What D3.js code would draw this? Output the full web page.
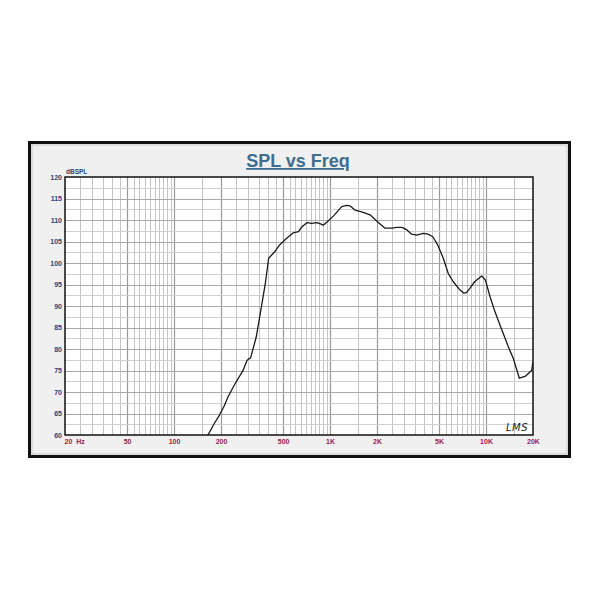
<!DOCTYPE html>
<html>
<head>
<meta charset="utf-8">
<script src="https://cdn.jsdelivr.net/npm/d3@7"></script>
<style>
  html, body { margin: 0; padding: 0; background: #ffffff; }
  svg { display: block; }
</style>
</head>
<body>
<svg id="chart" width="600" height="600"></svg>
<script>
// ---- data ----
const freqHz = [160, 165, 180, 196, 210, 222, 245, 276, 294, 310, 337, 363, 385, 404, 442, 475, 525,
  579, 628, 655, 714, 760, 820, 870, 905, 960, 1050, 1188, 1280, 1340, 1445, 1595, 1805, 2040, 2250,
  2490, 2680, 2890, 3110, 3340, 3590, 3960, 4250, 4560, 4900, 5320, 5720, 6150, 6810, 7200, 7500,
  7870, 8480, 9380, 9910, 10600, 11400, 12280, 13900, 14960, 16350, 17950, 19600, 20000];
const splDb = [59, 60, 62.5, 64.7, 66.8, 68.9, 71.8, 74.9, 77.4, 78, 82.9, 89.8, 95.3, 101.1, 102.6, 104.2, 105.7,
  107, 107.3, 108.3, 109.4, 109.2, 109.4, 109.1, 108.8, 109.6, 110.9, 113.1, 113.4, 113.3, 112.3, 111.9, 111.2, 109.4, 108.1,
  108.1, 108.3, 108.3, 107.7, 106.7, 106.5, 106.9, 106.7, 106.1, 104.2, 101.1, 97.6, 95.7, 93.7, 93, 93.1,
  94.1, 95.7, 97, 96, 92.2, 88.7, 85.6, 80.5, 77.8, 73.2, 73.7, 75, 77];

const xTickValues = [20, 50, 100, 200, 500, 1000, 2000, 5000, 10000, 20000];
const xTickLabels = ["20  Hz", "50", "100", "200", "500", "1K", "2K", "5K", "10K", "20K"];
const yTickValues = [60, 65, 70, 75, 80, 85, 90, 95, 100, 105, 110, 115, 120];
const titleText = "SPL vs Freq";
const yUnitText = "dBSPL";
const brandText = "LMS";

// ---- layout ----
const svg = d3.select("#chart");
const plot = { left: 65, right: 533, top: 177, bottom: 435 };

const x = d3.scaleLog().domain([20, 20000]).range([plot.left, plot.right]);
const y = d3.scaleLinear().domain([60, 120]).range([plot.bottom, plot.top]);

// outer frame
svg.append("rect")
  .attr("x", 29.5).attr("y", 142.5).attr("width", 540).attr("height", 314)
  .attr("fill", "#f0f0f0").attr("stroke", "#111").attr("stroke-width", 3);
svg.append("rect")
  .attr("x", 32).attr("y", 145).attr("width", 535).attr("height", 309)
  .attr("fill", "none").attr("stroke", "#c8c8c8").attr("stroke-width", 1);

// plot background
svg.append("rect")
  .attr("x", plot.left).attr("y", plot.top)
  .attr("width", plot.right - plot.left).attr("height", plot.bottom - plot.top)
  .attr("fill", "#ffffff");

// vertical grid lines (every half step in each decade)
const vGrid = [];
[10, 100, 1000, 10000].forEach(d => {
  for (let m = 1; m < 10; m += 0.5) {
    const f = d * m;
    if (f > 20 && f < 20000) vGrid.push(f);
  }
});
const majorSet = new Set(xTickValues);
svg.append("g").selectAll("line").data(vGrid).join("line")
  .attr("x1", d => Math.round(x(d)) + 0.5).attr("x2", d => Math.round(x(d)) + 0.5)
  .attr("y1", plot.top).attr("y2", plot.bottom)
  .attr("stroke", d => majorSet.has(d) ? "#9a9a9a" : "#c4c4c4")
  .attr("stroke-width", d => majorSet.has(d) ? 1.2 : 1);

// horizontal grid lines every 2.5 dB
const hGrid = d3.range(62.5, 120, 2.5);
svg.append("g").selectAll("line").data(hGrid).join("line")
  .attr("x1", plot.left).attr("x2", plot.right)
  .attr("y1", d => Math.round(y(d)) + 0.5).attr("y2", d => Math.round(y(d)) + 0.5)
  .attr("stroke", d => d % 5 === 0 ? "#a8a8a8" : "#cfcfcf")
  .attr("stroke-width", 1);

// clip for curve
svg.append("clipPath").attr("id", "clip")
  .append("rect").attr("x", plot.left).attr("y", plot.top)
  .attr("width", plot.right - plot.left).attr("height", plot.bottom - plot.top);

const pts = freqHz.map((f, i) => [f, splDb[i]]);
const line = d3.line().x(d => x(d[0])).y(d => y(d[1]));
svg.append("path")
  .attr("clip-path", "url(#clip)")
  .attr("d", line(pts))
  .attr("fill", "none").attr("stroke", "#1a1a1a").attr("stroke-width", 1.3)
  .attr("stroke-linejoin", "round");

// plot border
svg.append("rect")
  .attr("x", plot.left).attr("y", plot.top)
  .attr("width", plot.right - plot.left).attr("height", plot.bottom - plot.top)
  .attr("fill", "none").attr("stroke", "#111").attr("stroke-width", 1.5);

// y axis
const yAxis = svg.append("g")
  .attr("transform", `translate(${plot.left},0)`)
  .call(d3.axisLeft(y).tickValues(yTickValues).tickSize(0).tickPadding(3).tickFormat(d3.format("d")));
yAxis.select(".domain").remove();
yAxis.selectAll("text")
  .attr("fill", "#2d3f75")
  .style("font-family", "'Liberation Sans Narrow', 'Liberation Sans', Arial, sans-serif")
  .style("font-size", "7px").style("font-weight", "bold");

// x axis
const xAxis = svg.append("g")
  .attr("transform", `translate(0,${plot.bottom})`)
  .call(d3.axisBottom(x).tickValues(xTickValues).tickSize(0).tickPadding(4)
    .tickFormat((d, i) => xTickLabels[i]));
xAxis.select(".domain").remove();
xAxis.selectAll("text")
  .attr("fill", "#9b2050")
  .style("font-family", "'Liberation Sans Narrow', 'Liberation Sans', Arial, sans-serif")
  .style("font-size", "7px").style("font-weight", "bold")
  .style("white-space", "pre")
  .attr("text-anchor", (d, i) => i === 0 ? "start" : "middle")
  .attr("dx", (d, i) => i === 0 ? -1 : 0);

// y unit label
svg.append("text")
  .attr("x", plot.left + 1).attr("y", plot.top - 3)
  .attr("fill", "#2d3f75")
  .style("font-family", "'Liberation Sans Narrow', 'Liberation Sans', Arial, sans-serif")
  .style("font-size", "6.5px").style("font-weight", "bold")
  .text(yUnitText);

// title
svg.append("text")
  .attr("x", 298).attr("y", 167)
  .attr("text-anchor", "middle")
  .attr("fill", "#3e6e8d")
  .style("font-family", "'Liberation Sans', Arial, sans-serif")
  .style("font-size", "18px").style("font-weight", "bold")
  .style("text-decoration", "underline")
  .text(titleText);

// brand mark
svg.append("text")
  .attr("x", 506).attr("y", 431)
  .attr("fill", "#222")
  .style("font-family", "'DejaVu Sans', sans-serif")
  .style("font-size", "10px").style("font-style", "italic")
  .style("letter-spacing", "0.5px")
  .text(brandText);
</script>
</body>
</html>
